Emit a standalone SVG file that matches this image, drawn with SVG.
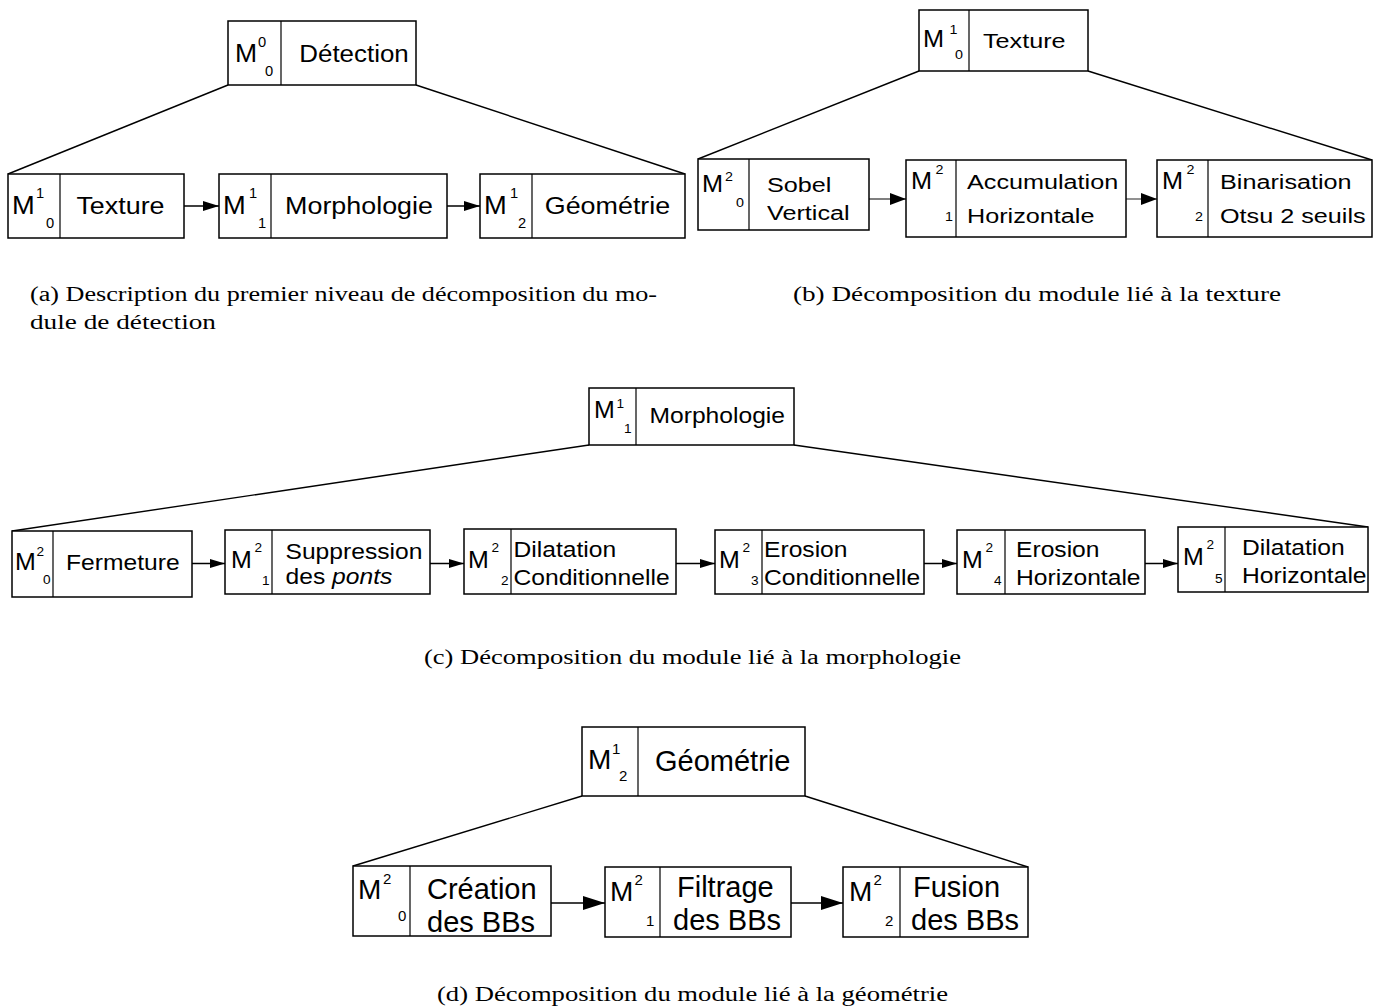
<svg xmlns="http://www.w3.org/2000/svg" width="1383" height="1008" viewBox="0 0 1383 1008">
  <style>
    .box { fill: #fff; stroke: #000; stroke-width: 1.5; }
    .div { stroke: #000; stroke-width: 1.2; }
    .link { stroke: #000; stroke-width: 1.4; fill: none; }
    .flow { stroke: #000; stroke-width: 1.6; fill: none; }
    .flowg { stroke: #555; stroke-width: 1.3; fill: none; }
    text { font-family: "Liberation Sans", Arial, sans-serif; fill: #000; }
    .fa { font-size: 24px; }
    .ma { font-size: 26px; }
    .fb { font-size: 21px; }
    .mb { font-size: 23px; }
    .fc { font-size: 22px; }
    .mc { font-size: 24px; }
    .fd { font-size: 29px; }
    .md { font-size: 28px; }
    .dig { font-size: 14px; }
    .digs { font-size: 13px; }
    .digd { font-size: 15px; }
    .cap { font-family: "Liberation Serif", "Times New Roman", serif; font-size: 20px; }
  </style>
  <defs>
    <marker id="ha" markerUnits="userSpaceOnUse" markerWidth="16" markerHeight="10" refX="16" refY="5" orient="auto">
      <path d="M0,0 L16,5 L0,10 Z" fill="#000"/>
    </marker>
    <marker id="hb" markerUnits="userSpaceOnUse" markerWidth="16" markerHeight="12" refX="16" refY="6" orient="auto">
      <path d="M0,0 L16,6 L0,12 Z" fill="#000"/>
    </marker>
    <marker id="hc" markerUnits="userSpaceOnUse" markerWidth="15" markerHeight="10" refX="15" refY="5" orient="auto">
      <path d="M0,0.5 L15,5 L0,9.5 Z" fill="#000"/>
    </marker>
    <marker id="hd" markerUnits="userSpaceOnUse" markerWidth="22" markerHeight="14" refX="22" refY="7" orient="auto">
      <path d="M0,0 L22,7 L0,14 Z" fill="#000"/>
    </marker>
  </defs>
  <rect width="1383" height="1008" fill="#fff"/>

  <!-- connectors: decomposition fans and flow arrows -->
  <g id="connectors">
    <!-- (a) -->
    <line class="link" x1="228" y1="85" x2="8" y2="174"/>
    <line class="link" x1="416" y1="85" x2="685" y2="174"/>
    <line class="flow" x1="184" y1="206" x2="219" y2="206" marker-end="url(#ha)"/>
    <line class="flow" x1="447" y1="206" x2="480" y2="206" marker-end="url(#ha)"/>
    <!-- (b) -->
    <line class="link" x1="919" y1="71" x2="698" y2="159"/>
    <line class="link" x1="1088" y1="71" x2="1372" y2="160"/>
    <line class="flowg" x1="869" y1="199" x2="906" y2="199" marker-end="url(#hb)"/>
    <line class="flowg" x1="1126" y1="199" x2="1157" y2="199" marker-end="url(#hb)"/>
    <!-- (c) -->
    <line class="link" x1="589" y1="445" x2="12" y2="531"/>
    <line class="link" x1="794" y1="445" x2="1368" y2="527"/>
    <line class="flow" x1="192" y1="563.5" x2="225" y2="563.5" marker-end="url(#hc)"/>
    <line class="flow" x1="430" y1="563.5" x2="464" y2="563.5" marker-end="url(#hc)"/>
    <line class="flow" x1="676" y1="563.5" x2="715" y2="563.5" marker-end="url(#hc)"/>
    <line class="flow" x1="924" y1="563.5" x2="957" y2="563.5" marker-end="url(#hc)"/>
    <line class="flow" x1="1145" y1="563.5" x2="1178" y2="563.5" marker-end="url(#hc)"/>
    <!-- (d) -->
    <line class="link" x1="582" y1="796" x2="353" y2="866"/>
    <line class="link" x1="805" y1="796" x2="1028" y2="867"/>
    <line class="flow" x1="551" y1="903" x2="605" y2="903" marker-end="url(#hd)"/>
    <line class="flow" x1="791" y1="903" x2="843" y2="903" marker-end="url(#hd)"/>
  </g>

  <!-- (a) first level of the detection module -->
  <g id="a-detection">
    <rect class="box" x="228" y="21" width="188" height="64"/>
    <line class="div" x1="281" y1="21" x2="281" y2="85"/>
    <text class="ma" transform="matrix(1.02 0 0 1 235 62)">M</text>
    <text class="dig" transform="matrix(1.05 0 0 1 258 47)">0</text>
    <text class="dig" transform="matrix(1.05 0 0 1 265 76)">0</text>
    <text class="fa" text-anchor="middle" transform="matrix(1.08 0 0 1 354 62)">Détection</text>
  </g>
  <g id="a-texture">
    <rect class="box" x="8" y="174" width="176" height="64"/>
    <line class="div" x1="60" y1="174" x2="60" y2="238"/>
    <text class="ma" transform="matrix(1.05 0 0 1 12 214)">M</text>
    <text class="dig" transform="matrix(1.05 0 0 1 36 198)">1</text>
    <text class="dig" transform="matrix(1.05 0 0 1 46 228)">0</text>
    <text class="fa" text-anchor="middle" transform="matrix(1.12 0 0 1 120.5 214)">Texture</text>
  </g>
  <g id="a-morphologie">
    <rect class="box" x="219" y="174" width="228" height="64"/>
    <line class="div" x1="271" y1="174" x2="271" y2="238"/>
    <text class="ma" transform="matrix(1.05 0 0 1 223 214)">M</text>
    <text class="dig" transform="matrix(1.05 0 0 1 249 198)">1</text>
    <text class="dig" transform="matrix(1.05 0 0 1 258 228)">1</text>
    <text class="fa" text-anchor="middle" transform="matrix(1.12 0 0 1 359 214)">Morphologie</text>
  </g>
  <g id="a-geometrie">
    <rect class="box" x="480" y="174" width="205" height="64"/>
    <line class="div" x1="532" y1="174" x2="532" y2="238"/>
    <text class="ma" transform="matrix(1.05 0 0 1 484 214)">M</text>
    <text class="dig" transform="matrix(1.05 0 0 1 510 198)">1</text>
    <text class="dig" transform="matrix(1.05 0 0 1 518 228)">2</text>
    <text class="fa" text-anchor="middle" transform="matrix(1.12 0 0 1 607.5 214)">Géométrie</text>
  </g>

  <!-- (b) texture module -->
  <g id="b-texture">
    <rect class="box" x="919" y="10" width="169" height="61"/>
    <line class="div" x1="969" y1="10" x2="969" y2="71"/>
    <text class="mb" transform="matrix(1.1 0 0 1 923 47)">M</text>
    <text class="digs" transform="matrix(1.1 0 0 1 949.5 34)">1</text>
    <text class="digs" transform="matrix(1.1 0 0 1 955 59)">0</text>
    <text class="fb" transform="matrix(1.2 0 0 1 983 48)">Texture</text>
  </g>
  <g id="b-sobel">
    <rect class="box" x="698" y="159" width="171" height="71"/>
    <line class="div" x1="749" y1="159" x2="749" y2="230"/>
    <text class="mb" transform="matrix(1.1 0 0 1 702 192)">M</text>
    <text class="digs" transform="matrix(1.1 0 0 1 725 181)">2</text>
    <text class="digs" transform="matrix(1.1 0 0 1 736 207)">0</text>
    <text class="fb" transform="matrix(1.2 0 0 1 767 192)">Sobel</text>
    <text class="fb" transform="matrix(1.2 0 0 1 767 220)">Vertical</text>
  </g>
  <g id="b-accumulation">
    <rect class="box" x="906" y="160" width="220" height="77"/>
    <line class="div" x1="956" y1="160" x2="956" y2="237"/>
    <text class="mb" transform="matrix(1.1 0 0 1 911 189)">M</text>
    <text class="digs" transform="matrix(1.1 0 0 1 935.5 174)">2</text>
    <text class="digs" transform="matrix(1.1 0 0 1 945 221)">1</text>
    <text class="fb" transform="matrix(1.2 0 0 1 967 189)">Accumulation</text>
    <text class="fb" transform="matrix(1.2 0 0 1 967 223)">Horizontale</text>
  </g>
  <g id="b-binarisation">
    <rect class="box" x="1157" y="160" width="215" height="77"/>
    <line class="div" x1="1208" y1="160" x2="1208" y2="237"/>
    <text class="mb" transform="matrix(1.1 0 0 1 1162 189)">M</text>
    <text class="digs" transform="matrix(1.1 0 0 1 1186.5 174)">2</text>
    <text class="digs" transform="matrix(1.1 0 0 1 1195 221)">2</text>
    <text class="fb" transform="matrix(1.2 0 0 1 1220 189)">Binarisation</text>
    <text class="fb" transform="matrix(1.2 0 0 1 1220 223)">Otsu 2 seuils</text>
  </g>

  <!-- (c) morphology module -->
  <g id="c-morphologie">
    <rect class="box" x="589" y="388" width="205" height="57"/>
    <line class="div" x1="636" y1="388" x2="636" y2="445"/>
    <text class="mc" transform="matrix(1.04 0 0 1 594 418)">M</text>
    <text class="digs" transform="matrix(1.05 0 0 1 616.5 408)">1</text>
    <text class="digs" transform="matrix(1.05 0 0 1 624 433)">1</text>
    <text class="fc" transform="matrix(1.12 0 0 1 649.5 423)">Morphologie</text>
  </g>
  <g id="c-fermeture">
    <rect class="box" x="12" y="531" width="180" height="66"/>
    <line class="div" x1="53" y1="531" x2="53" y2="597"/>
    <text class="mc" transform="matrix(1.04 0 0 1 15 570)">M</text>
    <text class="digs" transform="matrix(1.05 0 0 1 36.5 556)">2</text>
    <text class="digs" transform="matrix(1.05 0 0 1 43 584)">0</text>
    <text class="fc" transform="matrix(1.12 0 0 1 66 570)">Fermeture</text>
  </g>
  <g id="c-suppression">
    <rect class="box" x="225" y="530" width="205" height="64"/>
    <line class="div" x1="272" y1="530" x2="272" y2="594"/>
    <text class="mc" transform="matrix(1.04 0 0 1 231 568)">M</text>
    <text class="digs" transform="matrix(1.05 0 0 1 254.5 552)">2</text>
    <text class="digs" transform="matrix(1.05 0 0 1 262 585)">1</text>
    <text class="fc" transform="matrix(1.12 0 0 1 285.5 559)">Suppression</text>
    <text class="fc" transform="matrix(1.12 0 0 1 285.5 584)">des <tspan font-style="italic">ponts</tspan></text>
  </g>
  <g id="c-dilatation-cond">
    <rect class="box" x="464" y="529" width="212" height="65"/>
    <line class="div" x1="511" y1="529" x2="511" y2="594"/>
    <text class="mc" transform="matrix(1.04 0 0 1 468 568)">M</text>
    <text class="digs" transform="matrix(1.05 0 0 1 491.5 552)">2</text>
    <text class="digs" transform="matrix(1.05 0 0 1 501 585)">2</text>
    <text class="fc" transform="matrix(1.12 0 0 1 513.5 557)">Dilatation</text>
    <text class="fc" transform="matrix(1.12 0 0 1 513.5 585)">Conditionnelle</text>
  </g>
  <g id="c-erosion-cond">
    <rect class="box" x="715" y="530" width="209" height="64"/>
    <line class="div" x1="762" y1="530" x2="762" y2="594"/>
    <text class="mc" transform="matrix(1.04 0 0 1 719 568)">M</text>
    <text class="digs" transform="matrix(1.05 0 0 1 742.5 552)">2</text>
    <text class="digs" transform="matrix(1.05 0 0 1 751 585)">3</text>
    <text class="fc" transform="matrix(1.12 0 0 1 764 557)">Erosion</text>
    <text class="fc" transform="matrix(1.12 0 0 1 764 585)">Conditionnelle</text>
  </g>
  <g id="c-erosion-hor">
    <rect class="box" x="957" y="530" width="188" height="64"/>
    <line class="div" x1="1005" y1="530" x2="1005" y2="594"/>
    <text class="mc" transform="matrix(1.04 0 0 1 962 568)">M</text>
    <text class="digs" transform="matrix(1.05 0 0 1 985.5 552)">2</text>
    <text class="digs" transform="matrix(1.05 0 0 1 994 585)">4</text>
    <text class="fc" transform="matrix(1.12 0 0 1 1016 557)">Erosion</text>
    <text class="fc" transform="matrix(1.12 0 0 1 1016 585)">Horizontale</text>
  </g>
  <g id="c-dilatation-hor">
    <rect class="box" x="1178" y="527" width="190" height="65"/>
    <line class="div" x1="1225" y1="527" x2="1225" y2="592"/>
    <text class="mc" transform="matrix(1.04 0 0 1 1183 565)">M</text>
    <text class="digs" transform="matrix(1.05 0 0 1 1206.5 549)">2</text>
    <text class="digs" transform="matrix(1.05 0 0 1 1215 583)">5</text>
    <text class="fc" transform="matrix(1.12 0 0 1 1242 555)">Dilatation</text>
    <text class="fc" transform="matrix(1.12 0 0 1 1242 583)">Horizontale</text>
  </g>

  <!-- (d) geometry module -->
  <g id="d-geometrie">
    <rect class="box" x="582" y="727" width="223" height="69"/>
    <line class="div" x1="638" y1="727" x2="638" y2="796"/>
    <text class="md" x="588" y="769">M</text>
    <text class="digd" x="612" y="754">1</text>
    <text class="digd" x="619" y="781">2</text>
    <text class="fd" x="655" y="771">Géométrie</text>
  </g>
  <g id="d-creation">
    <rect class="box" x="353" y="866" width="198" height="70"/>
    <line class="div" x1="410" y1="866" x2="410" y2="936"/>
    <text class="md" x="358" y="899">M</text>
    <text class="digd" x="383" y="884">2</text>
    <text class="digd" x="398" y="921">0</text>
    <text class="fd" x="427" y="899">Création</text>
    <text class="fd" x="427" y="932">des BBs</text>
  </g>
  <g id="d-filtrage">
    <rect class="box" x="605" y="867" width="186" height="70"/>
    <line class="div" x1="660" y1="867" x2="660" y2="937"/>
    <text class="md" x="610" y="901">M</text>
    <text class="digd" x="634.5" y="885">2</text>
    <text class="digd" x="646" y="926">1</text>
    <text class="fd" x="677" y="897">Filtrage</text>
    <text class="fd" x="673" y="930">des BBs</text>
  </g>
  <g id="d-fusion">
    <rect class="box" x="843" y="867" width="185" height="70"/>
    <line class="div" x1="900" y1="867" x2="900" y2="937"/>
    <text class="md" x="849" y="901">M</text>
    <text class="digd" x="873.5" y="885">2</text>
    <text class="digd" x="885" y="926">2</text>
    <text class="fd" x="913" y="897">Fusion</text>
    <text class="fd" x="911" y="930">des BBs</text>
  </g>

  <!-- sub-figure captions -->
  <g id="captions">
    <text class="cap" x="30" y="301" textLength="627" lengthAdjust="spacingAndGlyphs">(a) Description du premier niveau de décomposition du mo-</text>
    <text class="cap" x="30" y="329" textLength="186" lengthAdjust="spacingAndGlyphs">dule de détection</text>
    <text class="cap" x="793" y="301" textLength="488" lengthAdjust="spacingAndGlyphs">(b) Décomposition du module lié à la texture</text>
    <text class="cap" x="424" y="664" textLength="537" lengthAdjust="spacingAndGlyphs">(c) Décomposition du module lié à la morphologie</text>
    <text class="cap" x="437" y="1001" textLength="511" lengthAdjust="spacingAndGlyphs">(d) Décomposition du module lié à la géométrie</text>
  </g>
</svg>
